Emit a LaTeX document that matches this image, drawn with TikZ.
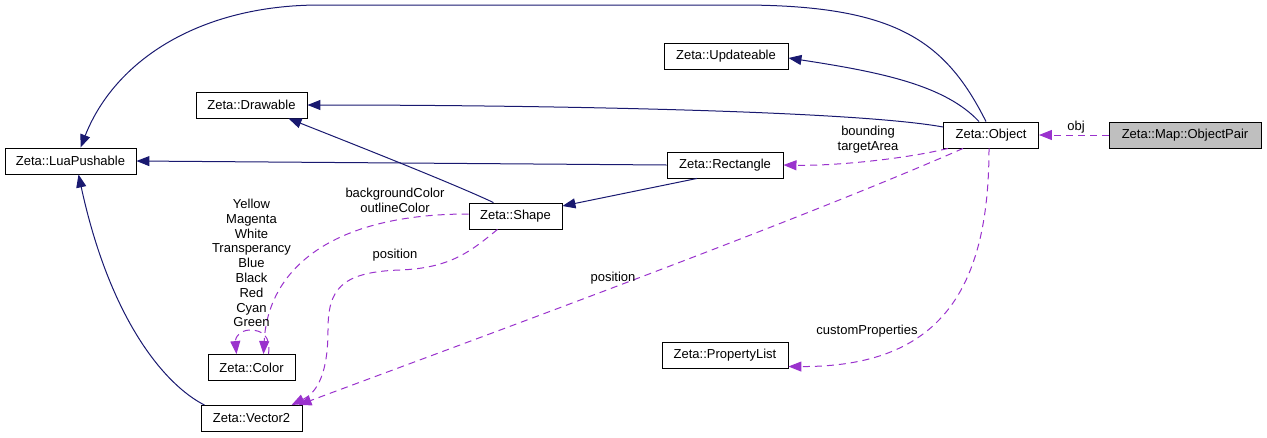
\documentclass[tikz,border=0pt]{standalone}
\usepackage{fontspec}
\setmainfont{Liberation Sans}
\usetikzlibrary{arrows.meta}
\definecolor{navyc}{HTML}{191970}
\definecolor{orchid}{HTML}{9A32CD}
\definecolor{pairfill}{HTML}{BFBFBF}
\begin{document}
\begin{tikzpicture}[x=1pt,y=-1pt,
  every node/.style={font=\fontsize{13}{14.8}\selectfont},
  cls/.style={draw=black,line width=0.9pt,minimum height=26pt,inner sep=0pt,anchor=center},
  inh/.style={draw=navyc,line width=1pt,-{Triangle[length=13pt,width=10pt]},navyc},
  use/.style={draw=orchid,line width=1pt,dash pattern=on 7pt off 5pt,-{Triangle[length=13pt,width=10pt]},orchid},
  lbl/.style={align=center,inner sep=0pt,text=black}]
\useasboundingbox (0,0) rectangle (1267,437);
% nodes
\node[cls,minimum width=131pt] (lua) at (70.5,161) {Zeta::LuaPushable};
\node[cls,minimum width=124pt] (upd) at (726,56) {Zeta::Updateable};
\node[cls,minimum width=111pt] (drw) at (251.5,105) {Zeta::Drawable};
\node[cls,minimum width=95pt] (obj) at (991,135) {Zeta::Object};
\node[cls,minimum width=152pt,fill=pairfill] (pair) at (1185,135) {Zeta::Map::ObjectPair};
\node[cls,minimum width=116pt] (rect) at (725,165) {Zeta::Rectangle};
\node[cls,minimum width=93pt] (shape) at (515.5,216) {Zeta::Shape};
\node[cls,minimum width=87pt] (color) at (251.5,367.5) {Zeta::Color};
\node[cls,minimum width=101pt] (vec) at (251.5,418.5) {Zeta::Vector2};
\node[cls,minimum width=126pt] (plist) at (725,355.5) {Zeta::PropertyList};
% inheritance edges
\draw[inh] ([xshift=-5pt]obj.north) .. controls (945,40) and (895,5) .. (740,5) -- (320,5) .. controls (200,5) and (115,60) .. ([xshift=10pt]lua.north);
\draw[inh] ([xshift=-12pt]obj.north) .. controls (945,85) and (880,72) .. ([yshift=-2pt]upd.east);
\draw[inh] ([yshift=8pt]obj.west) .. controls (850,110) and (520,105) .. (drw.east);
\draw[inh] (rect.west) -- (lua.east);
\draw[inh] ([xshift=-22pt]shape.north) .. controls (450,182) and (330,135) .. ([xshift=37pt]drw.south);
\draw[inh] ([xshift=-28pt]rect.south) -- ([yshift=10pt]shape.east);
\draw[inh] ([xshift=-47pt]vec.north) .. controls (165,385) and (110,320) .. ([xshift=8pt]lua.south);
% usage edges
\draw[use] (pair.west) -- (obj.east);
\node[lbl] (lobj) at (1076,127) {obj};
\draw[use] ([xshift=-43pt]obj.south) .. controls (900,160) and (830,166) .. (rect.east);
\node[lbl] (lbound) at (868,139.5) {bounding\\targetArea};
\draw[use] ([xshift=-28pt]obj.south) .. controls (800,220) and (500,330) .. ([xshift=47pt]vec.north);
\node[lbl] (lpos1) at (613,278) {position};
\draw[use] ([xshift=-2pt]obj.south) .. controls (989,290) and (940,367) .. ([yshift=-11pt]plist.east);
\node[lbl] (lcust) at (867,331) {customProperties};
\draw[use] ([yshift=2pt]shape.west) .. controls (330,214) and (268,270) .. ([xshift=12pt]color.north);
\node[lbl] (lbg) at (395,200) {backgroundColor\\outlineColor};
\draw[use] ([xshift=17pt]color.north) .. controls (271,336) and (262,330) .. (250,330) .. controls (240,330) and (235,338) .. ([xshift=-15pt]color.north);
\node[lbl] (lcol) at (251.5,263) {Yellow\\Magenta\\White\\Transperancy\\Blue\\Black\\Red\\Cyan\\Green};
\draw[use] ([xshift=-18pt]shape.south) .. controls (470,252) and (450,268) .. (400,270) .. controls (340,272) and (328,290) .. (328,330) .. controls (328,372) and (318,392) .. ([xshift=40pt]vec.north);
\node[lbl] (lpos2) at (395,255) {position};
\end{tikzpicture}
\end{document}
